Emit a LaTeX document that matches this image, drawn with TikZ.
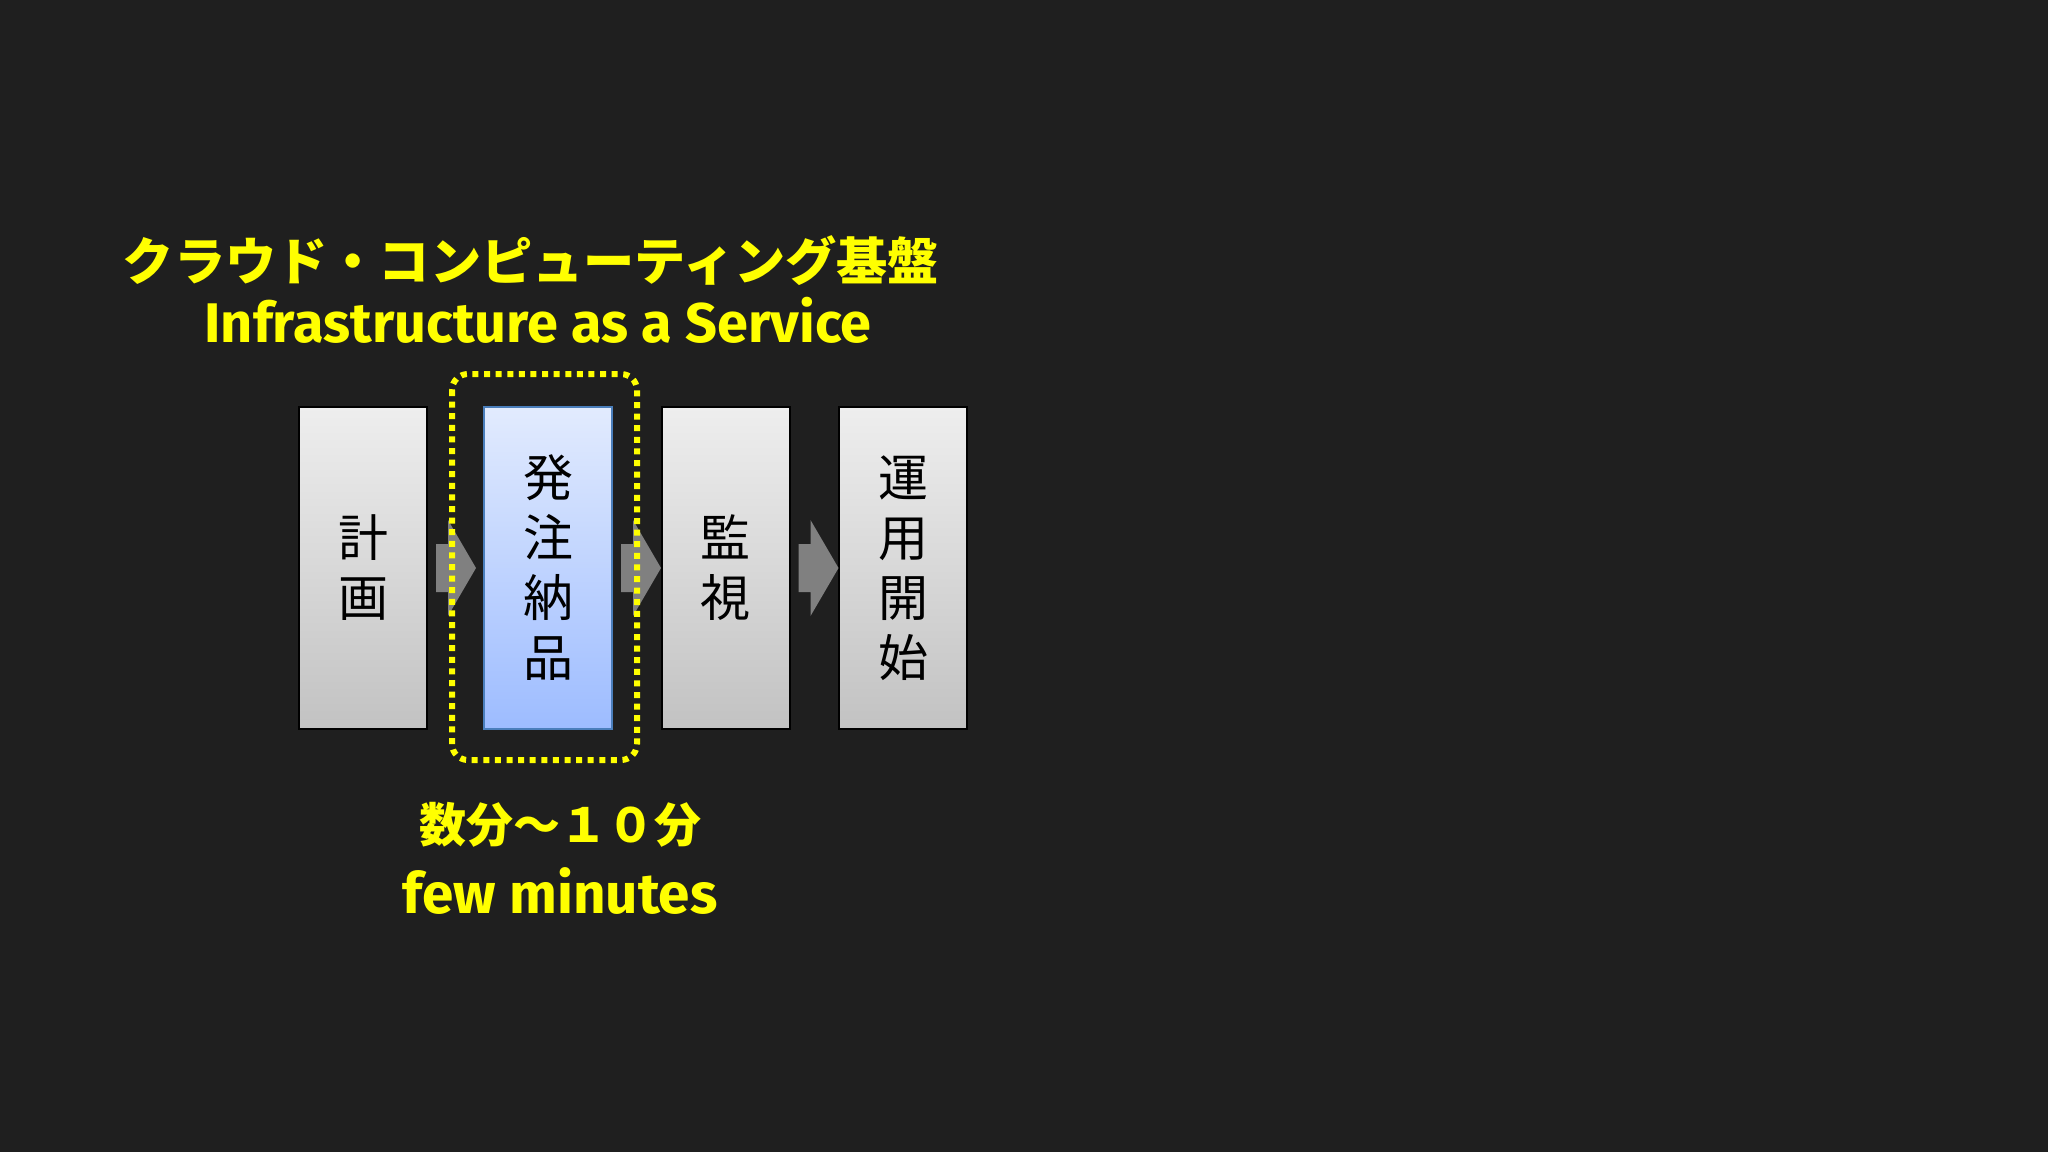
\documentclass[tikz,border=0pt]{standalone}
\usepackage{fontspec}
\usepackage{graphicx}
\usetikzlibrary{calc}
\newfontfamily\cjk{Noto Sans CJK JP}
\newfontfamily\latb{Fira Sans}
\definecolor{bg}{HTML}{1F1F1F}
\definecolor{ylw}{HTML}{FFFF00}
\definecolor{arrgray}{HTML}{808080}
\definecolor{boxtop}{HTML}{EEEEEE}
\definecolor{boxbot}{HTML}{C2C2C2}
\definecolor{bluetop}{HTML}{E2EBFE}
\definecolor{bluebot}{HTML}{9DBCFF}
\definecolor{blueedge}{HTML}{4A7EBB}
\tikzset{
  stepbox/.style={rectangle, draw=black, line width=1pt, minimum width=64pt, minimum height=161pt,
    inner sep=0pt, align=center, top color=boxtop, bottom color=boxbot,
    font=\cjk\fontsize{25pt}{30pt}\selectfont, text=black},
  activebox/.style={stepbox, draw=blueedge, top color=bluetop, bottom color=bluebot},
  flowarrow/.style={fill=arrgray},
  dotframe/.style={draw=ylw, line width=3pt, dash pattern=on 3pt off 2.8pt, rounded corners=8pt},
  ytext/.style={text=ylw, inner sep=0pt}
}
\newcommand{\blockarrow}[2]{%
  \fill[flowarrow] ($(#1.east)+(8,-24)$) -- ($(#1.east)+(20,-24)$) -- ($(#1.east)+(20,-48)$)
    -- ($(#1.east)+(48,0)$) -- ($(#1.east)+(20,48)$) -- ($(#1.east)+(20,24)$)
    -- ($(#1.east)+(8,24)$) -- cycle;}
\begin{document}
\begin{tikzpicture}[x=0.5pt,y=-0.5pt]
\fill[bg] (0,0) rectangle (2048,1152);
\useasboundingbox (0,0) rectangle (2048,1152);

\node[ytext, font=\cjk\bfseries\fontsize{25.6pt}{25.6pt}\selectfont] (title) at (531,261) {クラウド・コンピューティング基盤};
\node[ytext, anchor=base, font=\latb\bfseries\fontsize{25pt}{25pt}\selectfont] (iaas) at (538,342) {\resizebox{333.5pt}{!}{Infrastructure as a Service}};

\node[stepbox] (b1) at (363,568) {計\\画};
\node[activebox] (b2) at (548,568) {発\\注\\納\\品};
\node[stepbox] (b3) at (725.5,568) {監\\視};
\node[stepbox] (b4) at (903,568) {運\\用\\開\\始};

\blockarrow{b1}{b2}
\blockarrow{b2}{b3}
\blockarrow{b3}{b4}

\draw[dotframe] ($(b2.north west)+(-31,-32)$) rectangle ($(b2.south east)+(24,30)$);

\node[ytext, font=\cjk\bfseries\fontsize{23.5pt}{23.5pt}\selectfont] (time) at (560,825) {数分〜１０分};
\node[ytext, anchor=base, font=\latb\bfseries\fontsize{30pt}{30pt}\selectfont] (few) at (560,913) {\resizebox{157.5pt}{!}{few minutes}};
\end{tikzpicture}
\end{document}
